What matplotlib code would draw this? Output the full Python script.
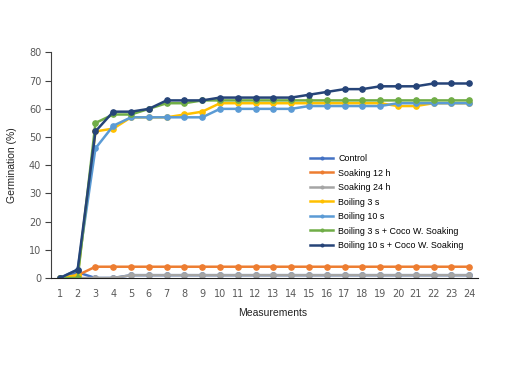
import matplotlib
matplotlib.use("Agg")
import matplotlib.pyplot as plt
from matplotlib import font_manager

# -----------------------------
# Datos
# -----------------------------
measurements = list(range(1, 25))

control      = [0, 2, 0, 0, 1, 1, 1, 1, 1, 1, 1, 1, 1, 1, 1, 1, 1, 1, 1, 1, 1, 1, 1, 1]
soaking_12h  = [0, 1, 4, 4, 4, 4, 4, 4, 4, 4, 4, 4, 4, 4, 4, 4, 4, 4, 4, 4, 4, 4, 4, 4]
soaking_24h  = [0, 0, 0, 0, 1, 1, 1, 1, 1, 1, 1, 1, 1, 1, 1, 1, 1, 1, 1, 1, 1, 1, 1, 1]
boiling_3s   = [0, 1, 52, 53, 57, 57, 57, 58, 59, 62, 62, 62, 62, 62, 62, 62, 62, 62, 62, 61, 61, 62, 62, 62]
boiling_10s  = [0, 3, 46, 54, 57, 57, 57, 57, 57, 60, 60, 60, 60, 60, 61, 61, 61, 61, 61, 62, 62, 62, 62, 62]
boil3_coco   = [0, 0, 55, 58, 58, 60, 62, 62, 63, 63, 63, 63, 63, 63, 63, 63, 63, 63, 63, 63, 63, 63, 63, 63]
boil10_coco  = [0, 3, 52, 59, 59, 60, 63, 63, 63, 64, 64, 64, 64, 64, 65, 66, 67, 67, 68, 68, 68, 69, 69, 69]

series_names = ["Control", "Soaking 12 h", "Soaking 24 h", "Boiling 3 s", "Boiling 10 s",
                "Boiling 3 s + Coco W. Soaking", "Boiling 10 s + Coco W. Soaking"]
series_vals = [control, soaking_12h, soaking_24h, boiling_3s, boiling_10s, boil3_coco, boil10_coco]
colores = ["#4472C4", "#ED7D31", "#A5A5A5", "#FFC000", "#5B9BD5", "#70AD47", "#264478"]

# fuente estrecha si existe
nombres = {f.name for f in font_manager.fontManager.ttflist}
narrow = "Liberation Sans Narrow" if "Liberation Sans Narrow" in nombres else "Liberation Sans"

# -----------------------------
# Gráfica
# -----------------------------
fig = plt.figure(figsize=(5.12, 3.67), dpi=100)
ax = fig.add_axes([0.0996, 0.2425, 0.834, 0.6145])

for nombre, vals, c in zip(series_names, series_vals, colores):
    ax.plot(measurements, vals, color=c, lw=1.8, marker="o", markersize=3.8, label=nombre)

ax.set_xlim(0.5, 24.5)
ax.set_ylim(0, 80)
ax.set_yticks(range(0, 81, 10))
ax.set_xticks(measurements)

for s in ["top", "right"]:
    ax.spines[s].set_visible(False)
ax.spines["left"].set_color("#404040")
ax.spines["bottom"].set_color("#202020")
ax.tick_params(axis="y", direction="out", length=4, width=0.8, color="#404040",
               labelsize=7, labelcolor="#595959", pad=3)
ax.tick_params(axis="x", length=0, labelsize=7, labelcolor="#595959", pad=8)

fig.text(273 / 512, 1 - 313 / 367, "Measurements", ha="center", va="center",
         fontsize=7.5, family=narrow, color="#222222", stretch="condensed")
fig.text(12 / 512, 1 - 165 / 367, "Germination (%)", ha="center", va="center",
         rotation=90, fontsize=7.5, family=narrow, color="#222222")

leg = ax.legend(loc="upper left", bbox_to_anchor=(302 / 512, 1 - 146 / 367),
                bbox_transform=fig.transFigure, frameon=False,
                prop={"family": narrow, "size": 6.4}, handlelength=2.6,
                labelspacing=0.62, handletextpad=0.6, markerscale=0.5)

fig.savefig("out.png", dpi=100)
